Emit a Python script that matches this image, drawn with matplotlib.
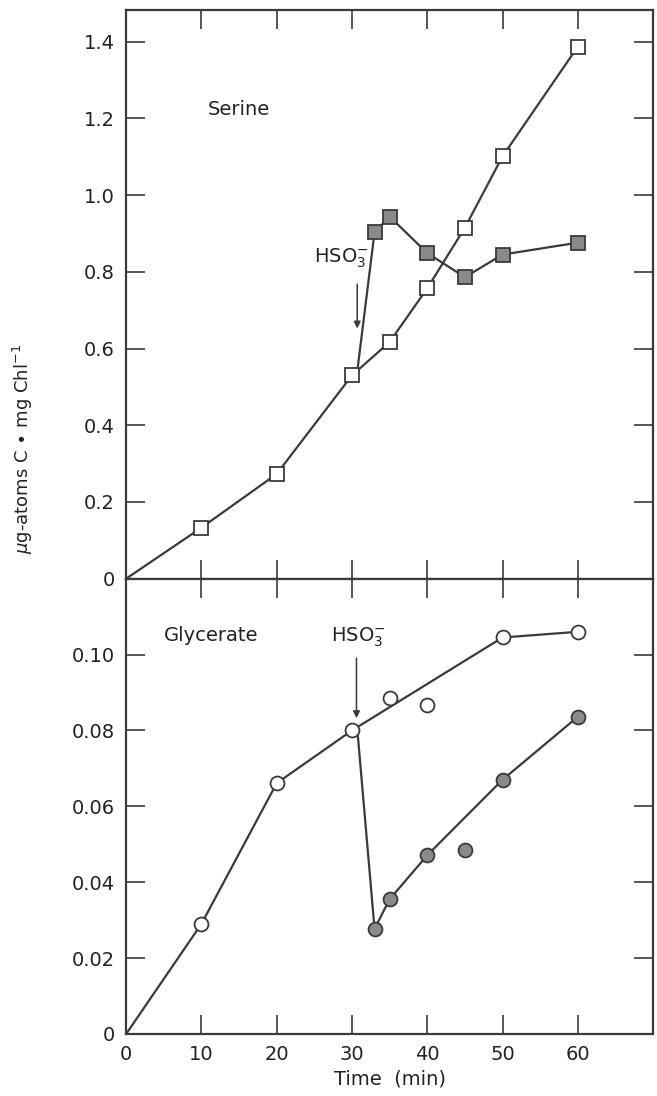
import numpy as np
import matplotlib
matplotlib.use('Agg')
import matplotlib.pyplot as plt

# serine, control (open squares); origin has no marker
ser_t = [0, 10, 20, 30, 35, 40, 45, 50, 60]
ser_c = [0, 0.133, 0.273, 0.530, 0.617, 0.757, 0.915, 1.101, 1.387]
# serine after bisulfite (filled squares); first point is the branch on the control line
ser_hso_t = [30.7, 33, 35, 40, 45, 50, 60]
ser_hso = [0.54, 0.903, 0.944, 0.849, 0.786, 0.845, 0.876]

# glycerate, control (open circles)
gly_t = [0, 10, 20, 30, 50, 60]
gly_c = [0, 0.029, 0.0661, 0.080, 0.1045, 0.106]
gly_extra_t = [35, 40]
gly_extra = [0.0886, 0.0868]
# glycerate after bisulfite (filled circles)
gly_hso_t = [30.7, 33, 35, 40, 50, 60]
gly_hso = [0.0805, 0.0277, 0.0355, 0.0471, 0.067, 0.0836]
gly_hso_extra_t = [45]
gly_hso_extra = [0.0486]

xticks = [0, 10, 20, 30, 40, 50, 60]
ser_ticks = [0, 0.2, 0.4, 0.6, 0.8, 1.0, 1.2, 1.4]
ser_labels = ['0', '0.2', '0.4', '0.6', '0.8', '1.0', '1.2', '1.4']
gly_ticks = [0, 0.02, 0.04, 0.06, 0.08, 0.10]
gly_labels = ['0', '0.02', '0.04', '0.06', '0.08', '0.10']

ink = '#3a3a3a'
fill = '#8a8a8a'

fig = plt.figure(figsize=(6.57, 10.96), dpi=100)
ax1 = fig.add_axes([0.192, 0.472, 0.802, 0.519])
ax2 = fig.add_axes([0.192, 0.0566, 0.802, 0.4154])

for ax in (ax1, ax2):
    ax.set_xlim(0, 70)
    ax.set_xticks(xticks)
    for s in ax.spines.values():
        s.set_color(ink)
        s.set_linewidth(1.6)
    ax.tick_params(direction='in', length=14, width=1.2, color=ink,
                   top=True, right=True, labelsize=14, labelcolor='#222222', pad=8)

# upper panel: serine
ax1.plot(ser_t, ser_c, '-', color=ink, lw=1.6, marker='s', ms=10,
         mfc='white', mec=ink, mew=1.3, markevery=slice(1, None), zorder=3)
ax1.plot(ser_hso_t, ser_hso, '-', color=ink, lw=1.6, marker='s', ms=10,
         mfc=fill, mec=ink, mew=1.3, markevery=slice(1, None), zorder=2)
ax1.set_ylim(0, 1.483)
ax1.set_yticks(ser_ticks)
ax1.set_yticklabels(ser_labels)
ax1.tick_params(axis='x', labelbottom=False)
ax1.text(10.9, 1.222, 'Serine', fontsize=14, color='#222222', va='center')
ax1.text(28.6, 0.835, r'HSO$_3^{-}$', fontsize=14, color='#222222', ha='center', va='center')
ax1.annotate('', xy=(30.7, 0.645), xytext=(30.7, 0.775),
             arrowprops=dict(arrowstyle='-|>', color=ink, lw=1.1, mutation_scale=10))

# lower panel: glycerate
ax2.plot(gly_t, gly_c, '-', color=ink, lw=1.6, marker='o', ms=10,
         mfc='white', mec=ink, mew=1.3, markevery=slice(1, None), zorder=3)
ax2.plot(gly_extra_t, gly_extra, 'o', ms=10, mfc='white', mec=ink, mew=1.3, zorder=3)
ax2.plot(gly_hso_t, gly_hso, '-', color=ink, lw=1.6, marker='o', ms=10,
         mfc=fill, mec=ink, mew=1.3, markevery=slice(1, None), zorder=2)
ax2.plot(gly_hso_extra_t, gly_hso_extra, 'o', ms=10, mfc=fill, mec=ink, mew=1.3, zorder=3)
ax2.set_ylim(0, 0.120)
ax2.set_yticks(gly_ticks)
ax2.set_yticklabels(gly_labels)
ax2.text(5.0, 0.105, 'Glycerate', fontsize=14, color='#222222', va='center')
ax2.text(30.8, 0.1045, r'HSO$_3^{-}$', fontsize=14, color='#222222', ha='center', va='center')
ax2.annotate('', xy=(30.6, 0.0825), xytext=(30.6, 0.0998),
             arrowprops=dict(arrowstyle='-|>', color=ink, lw=1.1, mutation_scale=10))
ax2.set_xlabel('Time  (min)', fontsize=14, color='#222222', labelpad=4)

fig.text(0.035, 0.59, r'$\mu$g-atoms C $\bullet$ mg Chl$^{-1}$', rotation=90,
         fontsize=13, color='#222222', ha='center', va='center')

fig.savefig('out.png', dpi=100)
